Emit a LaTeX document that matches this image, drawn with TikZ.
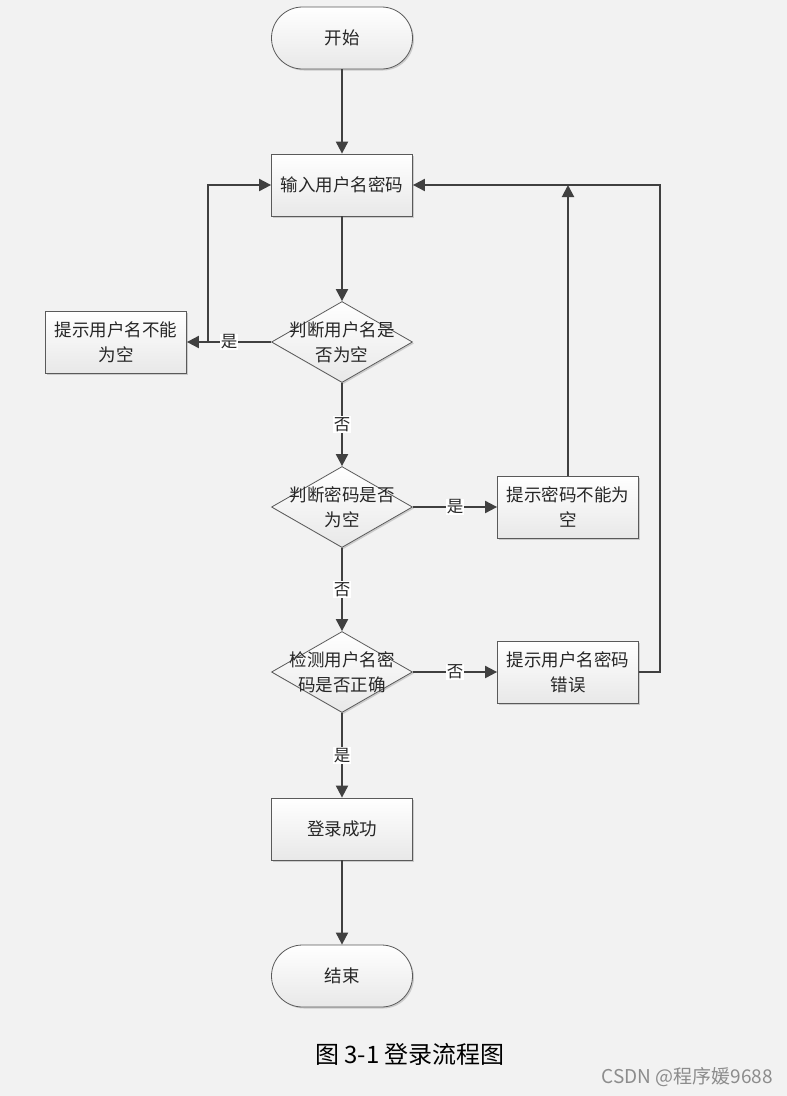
\documentclass[tikz,border=0pt]{standalone}
\usepackage{fontspec}
\newfontfamily\cjk{Noto Sans CJK SC}
\usetikzlibrary{arrows.meta,shapes.geometric,shadows}
\definecolor{bg}{HTML}{F2F2F2}
\definecolor{ln}{HTML}{404040}
\definecolor{bd}{HTML}{5A5A5A}
\definecolor{tx}{HTML}{262626}
\begin{document}
\begin{tikzpicture}[x=1pt,y=-1pt,
 base/.style={draw=bd, line width=0.8pt, top color=white, bottom color=black!9,
   drop shadow={shadow xshift=1.5pt, shadow yshift=-1.5pt, fill=black!30, opacity=0.6},
   font=\cjk\fontsize{17.5}{25}\selectfont, text=tx, align=center, inner sep=0pt},
 proc/.style={base, rectangle, minimum width=141pt, minimum height=62pt},
 term/.style={base, rectangle, rounded corners=31pt, minimum width=141pt, minimum height=62pt},
 dec/.style={base, diamond, minimum width=141pt, minimum height=81pt},
 dectext/.style={font=\cjk\fontsize{17.5}{25}\selectfont, text=tx, align=center, inner sep=0pt},
 conn/.style={draw=ln, line width=2pt, -{Triangle[length=12pt,width=12pt]}},
 lbl/.style={fill=white, font=\cjk\fontsize{16.5}{16.5}\selectfont, text=tx, inner sep=1pt}
]
\useasboundingbox (0,0) rectangle (787,1096);
\fill[bg] (0,0) rectangle (787,1096);

\node[term] (start) at (342,38) {开始};
\node[proc] (in) at (342,185) {输入用户名密码};
\node[dec, label={[dectext]center:判断用户名是\\否为空}] (d1) at (342,342) {};
\node[proc] (u1) at (116,342) {提示用户名不能\\为空};
\node[dec, label={[dectext]center:判断密码是否\\为空}] (d2) at (342,507) {};
\node[proc] (p2) at (568,507) {提示密码不能为\\空};
\node[dec, label={[dectext]center:检测用户名密\\码是否正确}] (d3) at (342,672) {};
\node[proc] (p3) at (568,672) {提示用户名密码\\错误};
\node[proc] (ok) at (342,829) {登录成功};
\node[term] (end) at (342,976) {结束};

\coordinate (j1) at (208,342);
\coordinate (c3) at (660,185);

\draw[conn] (start) -- (in);
\draw[conn] (in) -- (d1);
\draw[conn] (d1.west) -- node[lbl]{是} (u1.east);
\draw[conn] (j1) |- (in.west);
\draw[conn] (d1.south) -- node[lbl]{否} (d2.north);
\draw[conn] (d2.east) -- node[lbl]{是} (p2.west);
\draw[conn] (p2.north) -- (p2.north |- in.east);
\draw[conn] (d2.south) -- node[lbl]{否} (d3.north);
\draw[conn] (d3.east) -- node[lbl]{否} (p3.west);
\draw[conn] (p3.east) -| (c3) -- (in.east);
\draw[conn] (d3.south) -- node[lbl]{是} (ok.north);
\draw[conn] (ok) -- (end);

\node[font=\cjk\fontsize{24}{24}\selectfont, text=black] (cap) at (410,1054) {图 3-1 登录流程图};
\node[font=\cjk\fontsize{19}{19}\selectfont, text=black!45, anchor=east, inner sep=0pt] (wm) at (773,1077) {CSDN @程序媛9688};
\end{tikzpicture}
\end{document}
